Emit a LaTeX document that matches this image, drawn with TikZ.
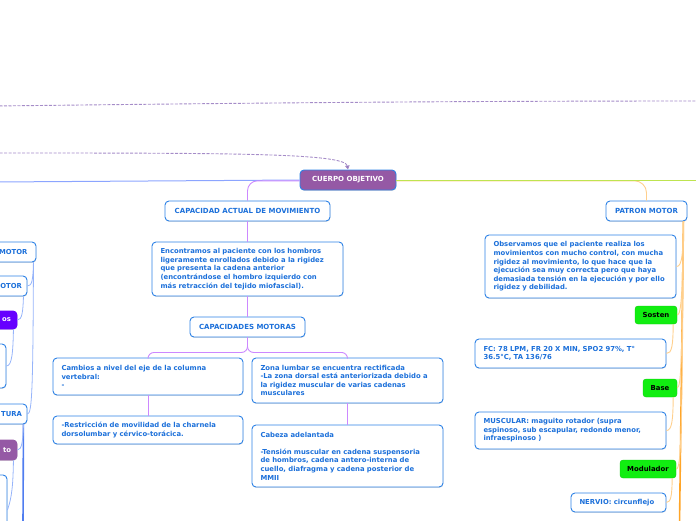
\documentclass[tikz,border=0pt]{standalone}
\usepackage{fontspec}
\setmainfont{DejaVu Sans}
\usetikzlibrary{arrows.meta,shadows}
\definecolor{textblue}{RGB}{28,112,218}
\definecolor{boxblue}{RGB}{45,130,230}
\definecolor{cpurple}{RGB}{149,89,165}
\definecolor{cviolet}{RGB}{102,0,255}
\definecolor{cgreen}{RGB}{17,238,17}
\definecolor{plinec}{RGB}{204,136,255}
\definecolor{olinec}{RGB}{255,207,140}
\definecolor{othickc}{RGB}{255,165,40}
\definecolor{blinec}{RGB}{150,180,250}
\definecolor{bthickc}{RGB}{80,125,240}
\definecolor{bluelinec}{RGB}{140,165,255}
\definecolor{limec}{RGB}{190,228,80}
\definecolor{dashc}{RGB}{165,140,200}
\definecolor{arrowc}{RGB}{125,85,180}
\tikzset{
  box/.style={draw=boxblue, line width=0.9pt, rounded corners=4pt, fill=white,
    text=textblue, font=\bfseries\fontsize{6.85}{8.6}\selectfont, align=left,
    inner xsep=8.5pt, inner ysep=0pt,
    drop shadow={shadow xshift=0.3pt, shadow yshift=-0.9pt, opacity=0.25}},
  tbox/.style={box, align=center, font=\bfseries\fontsize{7}{8.6}\selectfont},
  gbox/.style={draw=cgreen!85!black, line width=0.4pt, rounded corners=3pt, fill=cgreen,
    text=black, font=\bfseries\fontsize{6.9}{8.6}\selectfont, inner sep=0pt},
  pline/.style={draw=plinec, line width=0.9pt},
  oline/.style={draw=olinec, line width=0.9pt},
  othick/.style={draw=othickc, line width=1.6pt},
  bline/.style={draw=blinec, line width=0.8pt},
  bthick/.style={draw=bthickc, line width=1.6pt},
  dline/.style={draw=dashc, line width=0.9pt, dash pattern=on 3pt off 1.5pt},
}
\begin{document}
\begin{tikzpicture}[x=1pt,y=-1pt]
\useasboundingbox (0,0) rectangle (696,520);
\clip (0,0) rectangle (696,520);

% dashed connectors
\coordinate (dl1) at (-5,106);
\coordinate (dl2) at (701,101);
\coordinate (dl3) at (-5,153);

% main nodes
\node[tbox, fill=cpurple, text=white, minimum width=96pt, minimum height=20pt] (cuerpo) at (348,180) {CUERPO OBJETIVO};
\node[tbox, minimum width=165pt, minimum height=20pt] (cap) at (247.5,211) {CAPACIDAD ACTUAL DE MOVIMIENTO};
\node[box, minimum width=191pt, minimum height=54pt, text width=174pt] (enc) at (247.5,269)
 {Encontramos al paciente con los hombros\\ligeramente enrollados debido a la rigidez\\que presenta la cadena anterior\\(encontrándose el hombro izquierdo con\\más retracción del tejido miofascial).};
\node[tbox, minimum width=115pt, minimum height=20pt] (capm) at (247.5,327) {CAPACIDADES MOTORAS};
\node[box, minimum width=190pt, minimum height=37pt, text width=173pt] (cambios) at (148,376.5)
 {Cambios a nivel del eje de la columna\\vertebral:\\-};
\node[box, minimum width=191pt, minimum height=45pt, text width=174pt] (zona) at (347.5,380.5)
 {Zona lumbar se encuentra rectificada\\-La zona dorsal está anteriorizada debido a\\la rigidez muscular de varias cadenas\\musculares};
\node[box, minimum width=190pt, minimum height=28pt, text width=173pt] (restr) at (148,430)
 {-Restricción de movilidad de la charnela\\dorsolumbar y cérvico-torácica.};
\node[box, minimum width=191pt, minimum height=62pt, text width=174pt] (cabeza) at (347.5,456)
 {Cabeza adelantada\\~\\-Tensión muscular en cadena suspensoria\\de hombros, cadena antero-interna de\\cuello, diafragma y cadena posterior de\\MMII};

% right branch
\node[tbox, minimum width=81pt, minimum height=20pt] (patron) at (646.5,211) {PATRON MOTOR};
\node[box, minimum width=191pt, minimum height=63pt, text width=174pt] (obs) at (580.5,266.5)
 {Observamos que el paciente realiza los\\movimientos con mucho control, con mucha\\rigidez al movimiento, lo que hace que la\\ejecución sea muy correcta pero que haya\\demasiada tensión en la ejecución y por ello\\rigidez y debilidad.};
\node[gbox, minimum width=42pt, minimum height=18pt] (sosten) at (656,315) {Sosten};
\node[box, minimum width=191pt, minimum height=29pt, text width=174pt] (fc) at (570.5,353.5)
 {FC: 78 LPM, FR 20 X MIN, SPO2 97\%, T°\\36.5°C, TA 136/76};
\node[gbox, minimum width=34pt, minimum height=18pt] (base) at (660,388) {Base};
\node[box, minimum width=191pt, minimum height=37pt, text width=174pt] (mus) at (570.5,430.5)
 {MUSCULAR: maguito rotador (supra\\espinoso, sub escapular, redondo menor,\\infraespinoso )};
\node[gbox, minimum width=56pt, minimum height=18pt] (modul) at (648,469) {Modulador};
\node[box, minimum width=95pt, minimum height=19pt, text width=78pt] (nerv) at (618.5,502.5) {NERVIO: circunflejo};

% left partial branch
\node[box, align=right, minimum width=76pt, minimum height=20pt, text width=59pt] (l1) at (-2,252) {MOTOR};
\node[box, align=right, inner xsep=5pt, minimum width=67pt, minimum height=20pt, text width=57pt] (l2) at (-6.5,286) {OTOR};
\node[box, align=right, fill=cviolet, draw=cviolet, text=white, inner xsep=6pt, minimum width=57pt, minimum height=18pt, text width=45pt] (l3) at (-11.5,320) {os};
\node[box, minimum width=46pt, minimum height=44pt, text width=29pt] (l4) at (-17,366) {};
\node[box, align=right, inner xsep=5pt, minimum width=67pt, minimum height=20pt, text width=57pt] (l5) at (-6.5,414) {TURA};
\node[box, align=right, fill=cpurple, draw=cpurple, text=white, inner xsep=6pt, minimum width=57pt, minimum height=20pt, text width=45pt] (l6) at (-11.5,450) {to};
\node[box, minimum width=47pt, minimum height=70pt, text width=30pt] (l7) at (-16.5,510) {};

\coordinate (leftend) at (-5,182);
\coordinate (rightend) at (701,180);
\coordinate (rbot) at (679.5,525);
\coordinate (lbot) at (23,525);

% connectors
\draw[dline] (dl1) .. controls (250,103) and (450,101) .. (dl2);
\draw[dline, -{Triangle[length=4pt,width=4.5pt,fill=arrowc]}] (dl3) .. controls (230,153) and (345,153) .. (cuerpo.north);
\draw[bluelinec, line width=1pt] (cuerpo.west) -- (leftend);
\draw[pline, rounded corners=10pt] ([yshift=-0.8pt]cuerpo.west) -| (cap.north);
\draw[oline, rounded corners=12pt] ([yshift=-0.8pt]cuerpo.east) -| (patron.north);
\draw[limec, line width=1pt] (cuerpo.east) -- (rightend);
\draw[pline] (cap.south) -- (enc.north);
\draw[pline] (enc.south) -- (capm.north);
\draw[pline, rounded corners=6pt] (capm.south) -- ++(0,15) -| (cambios.north);
\draw[pline, rounded corners=6pt] (capm.south) -- ++(0,15) -| (zona.north);
\draw[pline] (cambios.south) -- (restr.north);
\draw[pline] (zona.south) -- (cabeza.north);

\coordinate (ps) at ([xshift=-4pt]patron.south east);
\draw[othick] (ps) -- (rbot);
\draw[oline] (ps) .. controls (683,255) and (682,266.5) .. (obs.east);
\draw[oline] (ps) .. controls (682.5,290) and (681.5,315) .. (sosten.east);
\draw[oline] (ps) .. controls (682,350) and (681.5,388) .. (base.east);
\draw[oline] (ps) .. controls (682,430) and (681.5,469) .. (modul.east);
\draw[oline] ([xshift=-4pt]sosten.south east) .. controls (673,345) and (672,353.5) .. (fc.east);
\draw[oline] ([xshift=-4pt]base.south east) .. controls (673,420) and (672,430.5) .. (mus.east);
\draw[oline] ([xshift=-4pt]modul.south east) .. controls (672,495) and (671,502.5) .. (nerv.east);

\coordinate (l1s) at ([xshift=-3pt]l1.south east);
\draw[bline] (l1s) .. controls (33,280) and (32,286) .. (l2.east);
\draw[bline] (l1s) .. controls (33,390) and (32,414) .. (l5.east);
\draw[bline] ([xshift=-4pt]l2.south east) .. controls (23,312) and (22,320) .. (l3.east);
\draw[bline] ([xshift=-4pt]l3.south east) .. controls (13,352) and (12,366) .. (l4.east);
\coordinate (l5s) at ([xshift=-4pt]l5.south east);
\draw[bthick] (l5s) -- (lbot);
\draw[bline] (l5s) .. controls (23,440) and (22,450) .. (l6.east);
\draw[bline] ([xshift=-4pt]l6.south east) .. controls (13,485) and (12,497) .. (l7.east);
\end{tikzpicture}
\end{document}
